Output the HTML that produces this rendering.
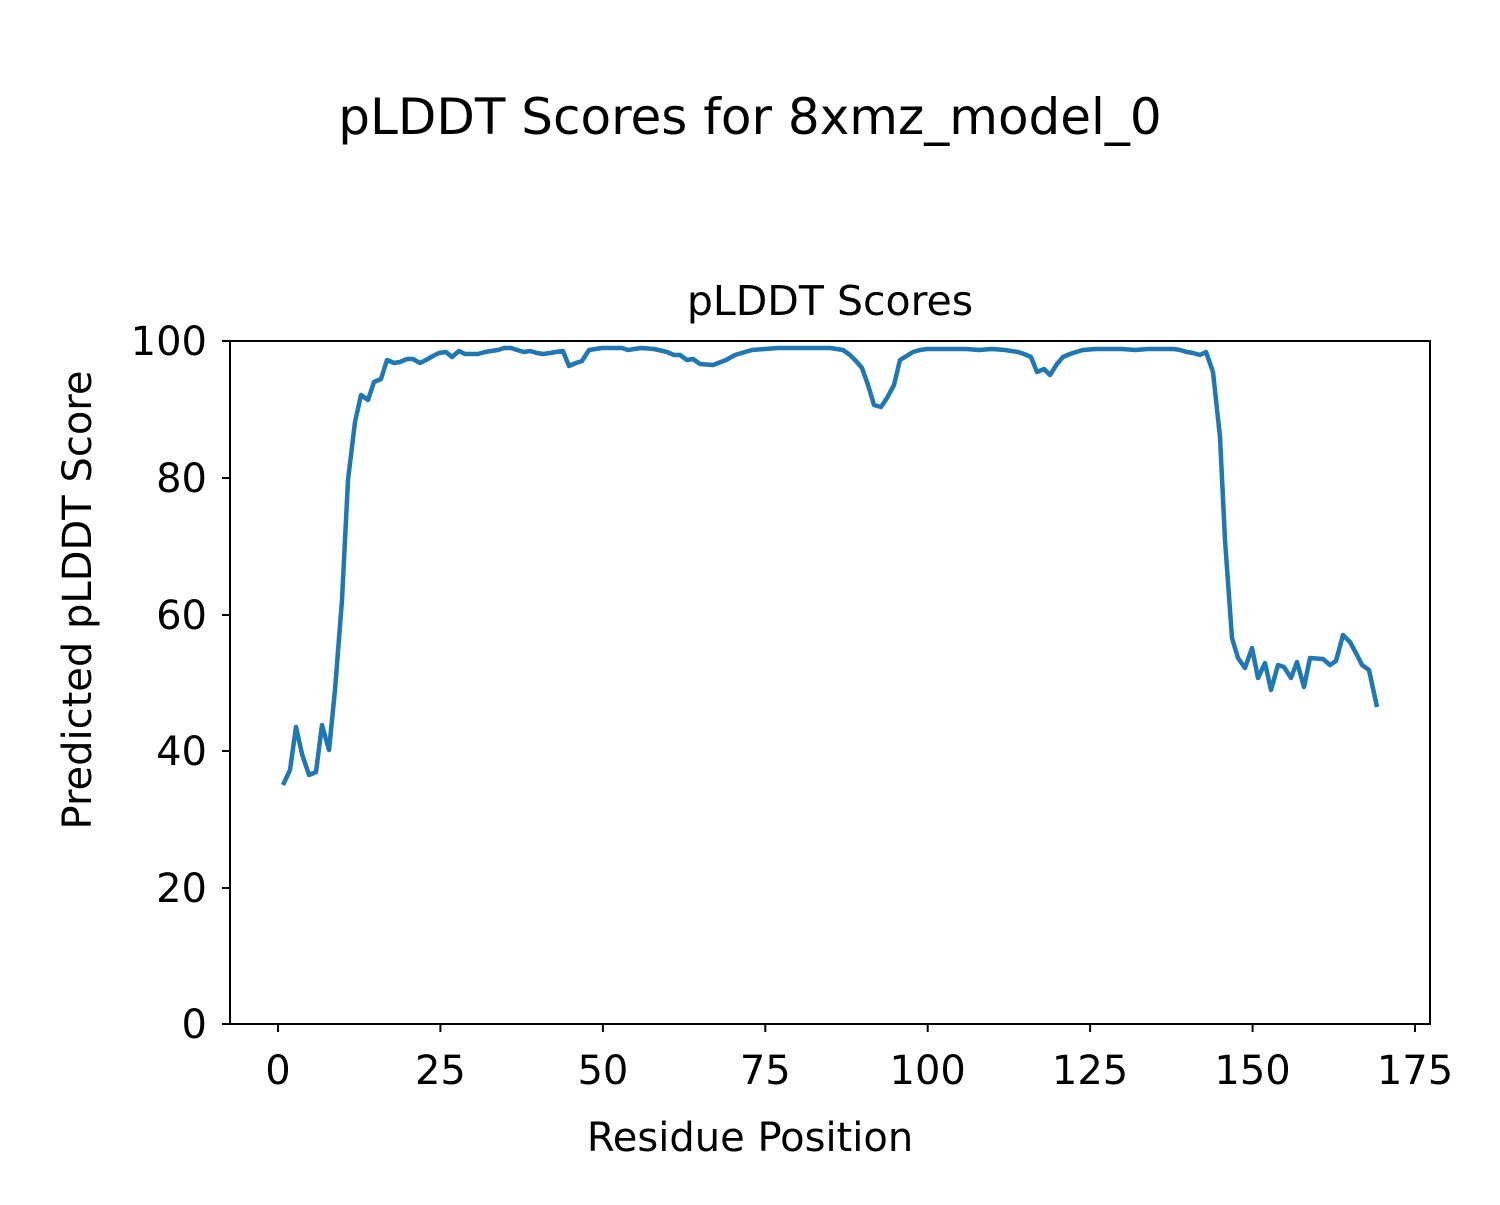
<!DOCTYPE html>
<html><head><meta charset="utf-8"><style>
body{margin:0;background:#fff;}
svg text{font-family:"DejaVu Sans","Liberation Sans",sans-serif;fill:#000;}
</style></head><body>
<svg width="1500" height="1200" viewBox="0 0 1500 1200" xmlns="http://www.w3.org/2000/svg">
<rect width="1500" height="1200" fill="#fff"/>
<text x="750" y="134" font-size="50" text-anchor="middle">pLDDT Scores for 8xmz_model_0</text>
<text x="830" y="315" font-size="41" text-anchor="middle">pLDDT Scores</text>
<polyline fill="none" stroke="#1f77b4" stroke-width="4.5" stroke-linejoin="round" points="283,785 290,770 296,727 302,754 309,775 316,772 322,725 329,750 335,690 342,600 348,480 355,422 361,395 368,400 374,382 381,379 387,360 394,363 400,362 407,359 413,359 420,363 426,360 433,356 439,353 446,352 452,357 459,351 465,354 472,354 478,354 485,352 491,351 498,350 504,348 511,348 517,350 524,352 530,351 537,353 543,354 550,353 556,352 563,351 569,366 576,363 582,361 589,350 602,348 615,348 622,348 628,350 641,348 654,349 667,352 674,355 680,355 687,360 693,359 700,364 713,365 726,360 735,355 745,352 752,350 765,349 778,348 791,348 804,348 817,348 830,348 843,350 850,355 856,361 862,368 868,385 874,405 881,407 887,398 894,385 900,360 913,352 920,350 927,349 940,349 953,349 966,349 979,350 992,349 1005,350 1018,352 1024,354 1031,357 1037,372 1044,369 1050,375 1057,364 1063,357 1070,354 1076,352 1083,350 1096,349 1109,349 1122,349 1135,350 1148,349 1161,349 1174,349 1180,350 1187,352 1193,353 1200,355 1206,352 1213,372 1220,437 1225,540 1232,638 1238,658 1245,668 1252,648 1258,678 1265,663 1271,690 1278,665 1284,667 1291,678 1297,662 1304,687 1310,658 1323,659 1330,665 1336,661 1343,635 1350,642 1357,655 1362,665 1369,670 1377,707"/>
<rect x="230" y="341" width="1200" height="683" fill="none" stroke="#000" stroke-width="2"/>
<g stroke="#000" stroke-width="2">
<line x1="230" y1="341" x2="222" y2="341"/><line x1="230" y1="478" x2="222" y2="478"/><line x1="230" y1="615" x2="222" y2="615"/><line x1="230" y1="751" x2="222" y2="751"/><line x1="230" y1="888" x2="222" y2="888"/><line x1="230" y1="1024" x2="222" y2="1024"/>
<line x1="278" y1="1024" x2="278" y2="1032"/><line x1="440.4" y1="1024" x2="440.4" y2="1032"/><line x1="602.9" y1="1024" x2="602.9" y2="1032"/><line x1="765.3" y1="1024" x2="765.3" y2="1032"/><line x1="927.7" y1="1024" x2="927.7" y2="1032"/><line x1="1090.1" y1="1024" x2="1090.1" y2="1032"/><line x1="1252.6" y1="1024" x2="1252.6" y2="1032"/><line x1="1415" y1="1024" x2="1415" y2="1032"/>
</g>
<g font-size="40" text-anchor="end">
<text x="207" y="355">100</text><text x="207" y="492">80</text><text x="207" y="629">60</text><text x="207" y="765">40</text><text x="207" y="902">20</text><text x="207" y="1038">0</text>
</g>
<g font-size="40" text-anchor="middle">
<text x="278" y="1084">0</text><text x="440.4" y="1084">25</text><text x="602.9" y="1084">50</text><text x="765.3" y="1084">75</text><text x="927.7" y="1084">100</text><text x="1090.1" y="1084">125</text><text x="1252.6" y="1084">150</text><text x="1415" y="1084">175</text>
</g>
<text x="750" y="1151" font-size="40" text-anchor="middle">Residue Position</text>
<text transform="translate(91,600) rotate(-90)" font-size="40" text-anchor="middle">Predicted pLDDT Score</text>
</svg>
</body></html>
